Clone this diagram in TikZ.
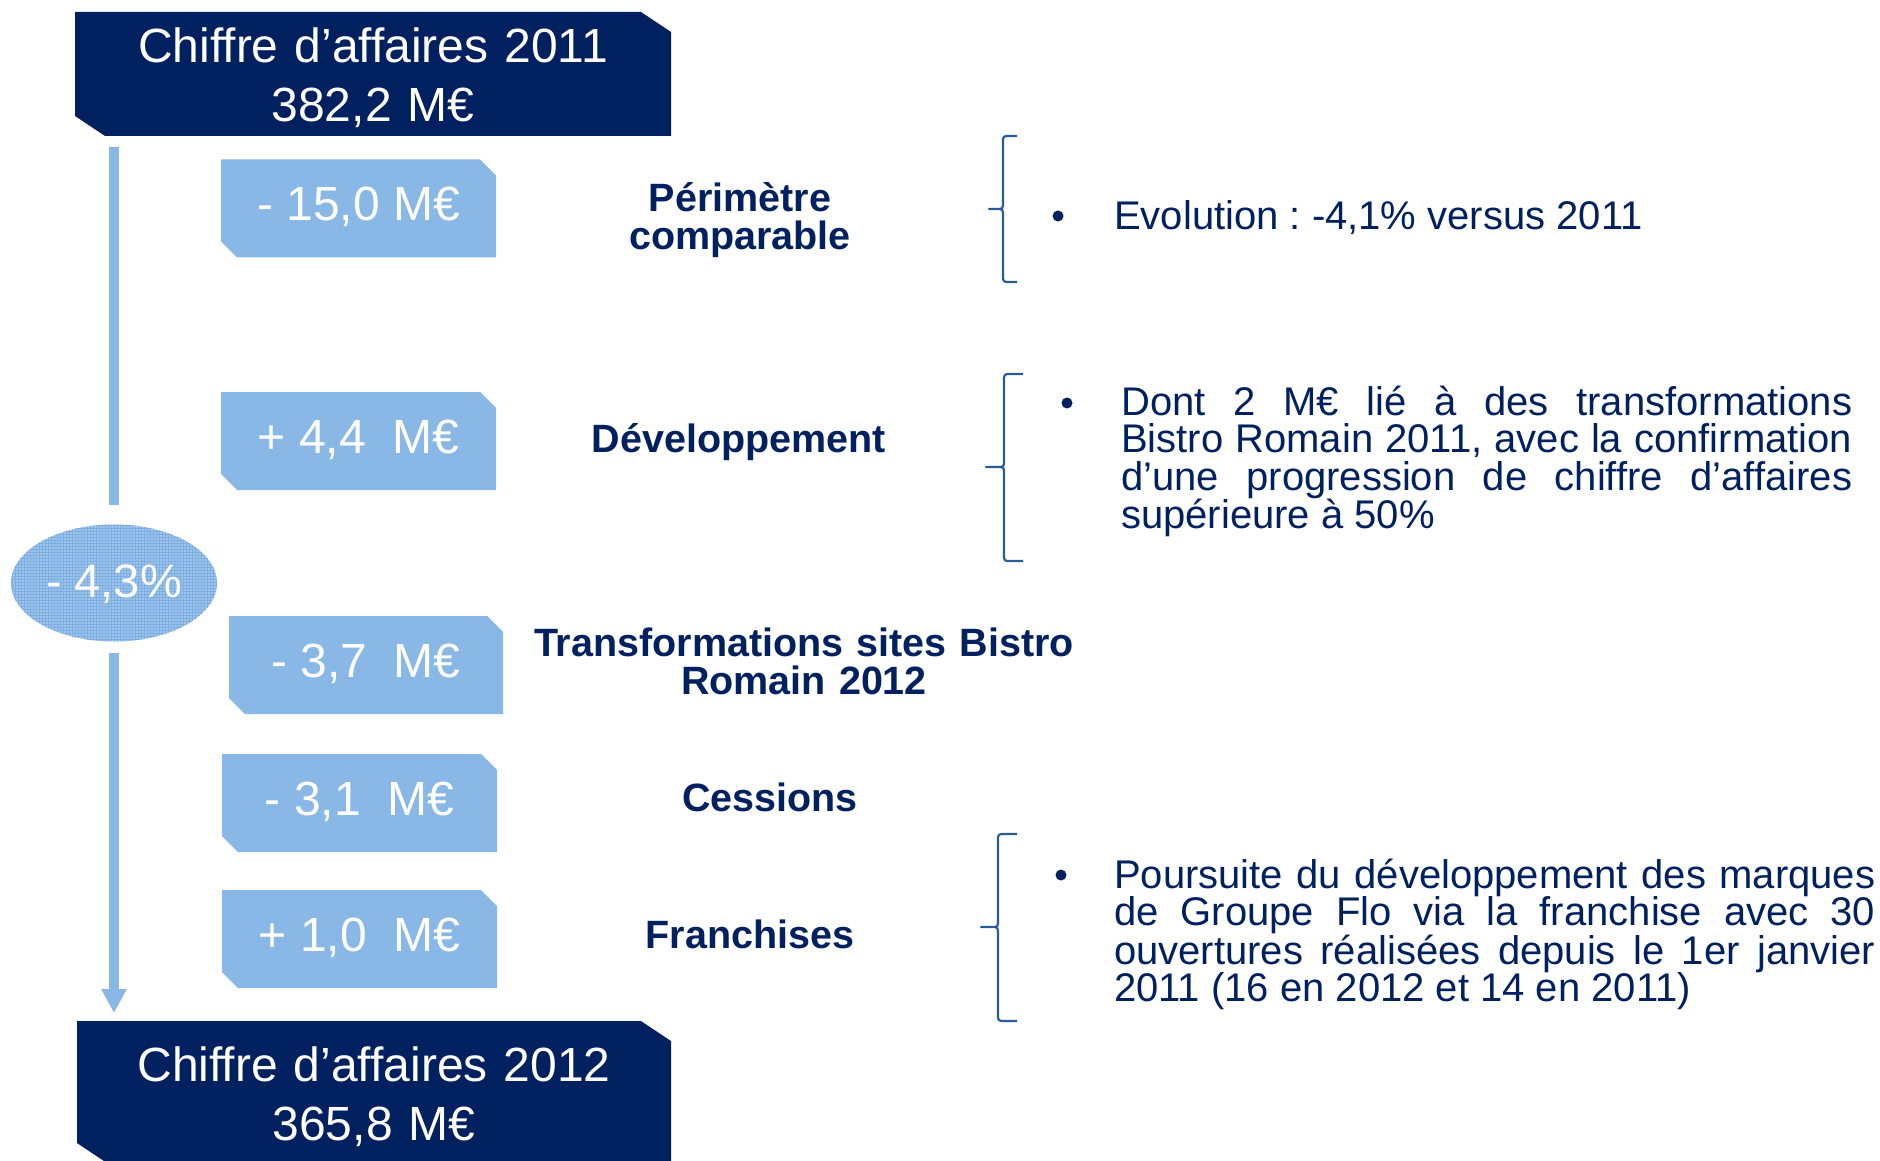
\documentclass[tikz,border=0pt]{standalone}
\usepackage{fontspec}
\setmainfont{Liberation Sans}
\usetikzlibrary{arrows.meta,calc,patterns,shapes.geometric}

\definecolor{navy}{RGB}{0,32,96}
\definecolor{sky}{RGB}{138,184,230}
\definecolor{skyoval}{RGB}{156,196,236}
\definecolor{skygrid}{RGB}{126,174,224}
\definecolor{bracecol}{RGB}{40,92,150}

% justified note paragraph of given width, lines ended with \linebreak
\newcommand\spreadnote[2]{\parbox[t]{#1}{\fontsize{40}{37.5}\selectfont
  \frenchspacing\hyphenpenalty=10000\relax #2}}

% left curly brace: vertical x, tip x, end x, top y, middle y, bottom y
\newcommand\leftcurl[6]{%
  \draw[curly] (#3,#4) -- ({#1+7},#4) .. controls (#1,#4) .. (#1,{#4+7})
    -- (#1,{#5-7}) .. controls (#1,#5) .. ({#1-7},#5) -- (#2,#5)
    -- ({#1-7},#5) .. controls (#1,#5) .. (#1,{#5+7})
    -- (#1,{#6-7}) .. controls (#1,#6) .. ({#1+7},#6) -- (#3,#6);}

\tikzset{
  snipbox/.style n args={3}{rectangle, inner sep=0pt, outer sep=0pt,
    path picture={\fill[#1]
      (path picture bounding box.north west) --
      ([xshift=-#2]path picture bounding box.north east) --
      ([yshift=-#3]path picture bounding box.north east) --
      (path picture bounding box.south east) --
      ([xshift=#2]path picture bounding box.south west) --
      ([yshift=#3]path picture bounding box.south west) -- cycle;}},
  headbox/.style={snipbox={navy}{30pt}{20pt}, text=white,
    font=\fontsize{48}{59}\selectfont, align=center, text width=560pt,
    text height=45pt, text depth=67pt},
  deltabox/.style={snipbox={sky}{16pt}{16pt}, text=white,
    font=\fontsize{48}{58}\selectfont, minimum height=98pt,
    text height=36pt, text depth=12pt},
  category/.style={text=navy, font=\fontsize{39.5}{38}\selectfont\bfseries,
    align=center, text width=600pt, inner sep=0pt, anchor=base},
  bulletdot/.style={circle, fill=navy, minimum size=11pt, inner sep=0pt},
  note/.style={text=navy, font=\fontsize{40}{37.5}\selectfont\frenchspacing,
    inner sep=0pt, anchor=base west},
  shaft/.style={draw=sky, line width=10pt},
  curly/.style={draw=bracecol, line width=2.2pt, line join=round},
}

\begin{document}
\begin{tikzpicture}[x=1pt, y=-1pt]
\useasboundingbox (0,0) rectangle (1880,1161);

% opening and closing turnover
\node[headbox, minimum width=596pt, minimum height=124pt] (top) at (373,74)
  {Chiffre d’affaires 2011\\382,2 M€};
\node[headbox, minimum width=594pt, minimum height=142pt] (bot) at (374,1092)
  {Chiffre d’affaires 2012\\365,8 M€};

% overall change
\node[ellipse, minimum width=206pt, minimum height=117pt, inner sep=0pt,
  fill=skyoval, postaction={pattern=grid, pattern color=skygrid},
  text=white, font=\fontsize{47}{56}\selectfont, text height=34pt, text depth=6pt]
  (pct) at (114,583) {- 4,3\%};

\draw[shaft] ($(top.south -| pct.north)+(0,11)$) -- ($(pct.north)+(0,-19)$);
\draw[shaft, -{Triangle[width=24pt,length=24pt]}]
  ($(pct.south)+(0,11)$) -- ($(bot.north -| pct.south)+(0,-8)$);

% contributions
\node[deltabox, minimum width=275pt] (d1) at (358.5,208.5) {- 15,0 M€};
\node[deltabox, minimum width=275pt] (d2) at (358.5,441) {+ 4,4~~M€};
\node[deltabox, minimum width=274pt] (d3) at (366,665) {- 3,7~~M€};
\node[deltabox, minimum width=275pt] (d4) at (359.5,803) {- 3,1~~M€};
\node[deltabox, minimum width=275pt] (d5) at (359.5,939) {+ 1,0~~M€};

\node[category] (per) at (740,212) {Périmètre\\comparable};
\node[category] (dev) at (739,452) {Développement};
\node[category] (tra) at (804,656) {Transformations sites Bistro\\Romain 2012};
\node[category] (ces) at (770,811) {Cessions};
\node[category] (fra) at (750,948) {Franchises};

% comments
\leftcurl{1003}{989}{1017}{136}{209}{282}
\leftcurl{1004}{986}{1023}{374}{467}{561}
\leftcurl{998}{981}{1017}{834}{927}{1021}

\node[bulletdot] (b1) at (1058,216) {};
\node[note] (t1) at (1114,230) {Evolution : -4,1\% versus 2011};

\node[bulletdot] (b2) at (1067,403) {};
\node[note] (t2) at (1121,415) {\spreadnote{731pt}{%
  Dont 2 M€ lié à des transformations\linebreak
  Bistro Romain 2011, avec la confirmation\linebreak
  d’une progression de chiffre d’affaires\linebreak
  supérieure à 50\%}};

\node[bulletdot] (b3) at (1061,875) {};
\node[note] (t3) at (1114,888) {\spreadnote{761pt}{%
  Poursuite du développement des marques\linebreak
  de Groupe Flo via la franchise avec 30\linebreak
  ouvertures réalisées depuis le 1er janvier\linebreak
  2011 (16 en 2012 et 14 en 2011)}};
\end{tikzpicture}
\end{document}
